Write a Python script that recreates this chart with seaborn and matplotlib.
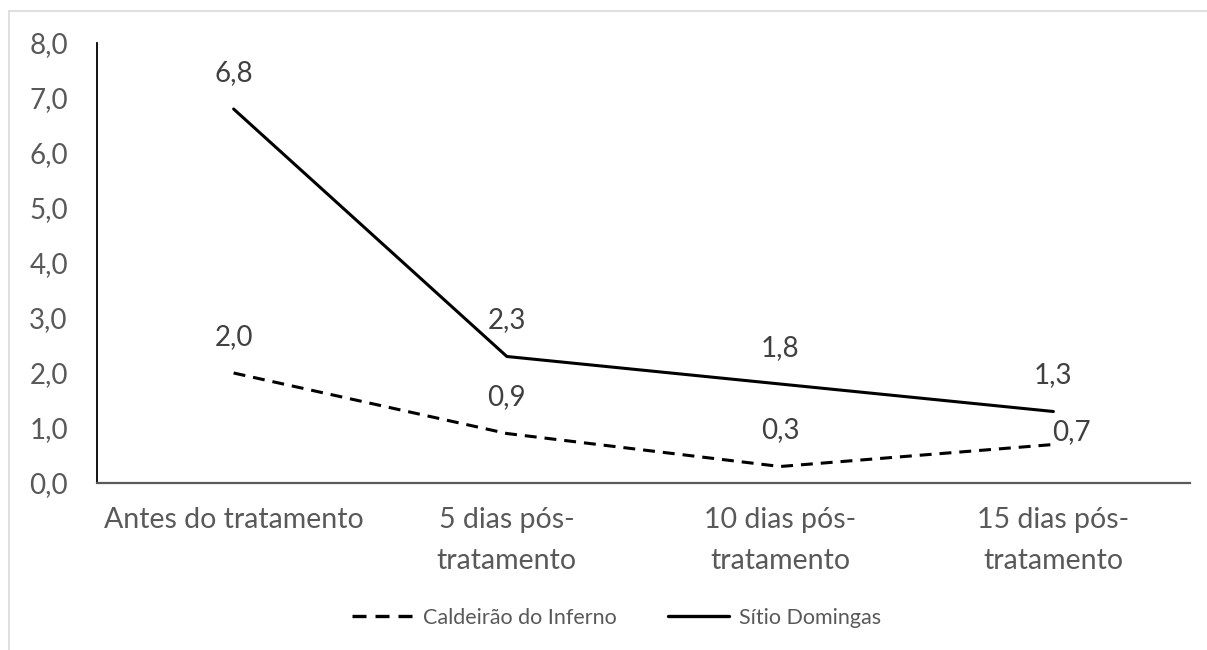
import matplotlib
matplotlib.use("Agg")
import matplotlib.pyplot as plt
import seaborn as sns
import pandas as pd
from matplotlib.patches import Rectangle

categories = ["Antes do tratamento", "5 dias pós-\ntratamento",
              "10 dias pós-\ntratamento", "15 dias pós-\ntratamento"]
caldeirao = [2.0, 0.9, 0.3, 0.7]
sitio = [6.8, 2.3, 1.8, 1.3]
series_names = ["Caldeirão do Inferno", "Sítio Domingas"]
y_ticks = [0, 1, 2, 3, 4, 5, 6, 7, 8]

df = pd.DataFrame({
    "pos": list(range(len(categories))) * 2,
    "valor": caldeirao + sitio,
    "serie": [series_names[0]] * 4 + [series_names[1]] * 4,
})

sns.set_theme(style="white")
plt.rcParams["font.family"] = ["Lato", "DejaVu Sans"]


def fmt(v):
    return f"{v:.1f}".replace(".", ",")


fig = plt.figure(figsize=(12.07, 6.5), dpi=100)
ax = fig.add_axes([97 / 1207, 1 - 483 / 650, (1190 - 97) / 1207, (483 - 43) / 650])

sns.lineplot(data=df, x="pos", y="valor", hue="serie", style="serie",
             palette={series_names[0]: "black", series_names[1]: "black"},
             dashes={series_names[0]: (3.9, 2.6), series_names[1]: ""},
             linewidth=2.2, ax=ax, legend=False)

ax.set_xlim(-0.5, len(categories) - 0.5)
ax.set_ylim(0, 8)
ax.set_xticks(range(len(categories)))
ax.set_xticklabels(categories, fontsize=20.5, color="#595959", linespacing=1.75)
ax.set_yticks(y_ticks)
ax.set_yticklabels([fmt(v) for v in y_ticks], fontsize=20, color="#595959")
ax.tick_params(axis="both", length=0)
ax.tick_params(axis="y", pad=21)
ax.tick_params(axis="x", pad=17)
ax.set_xlabel("")
ax.set_ylabel("")

for s in ["top", "right"]:
    ax.spines[s].set_visible(False)
ax.spines["left"].set_color("black")
ax.spines["left"].set_linewidth(1.3)
ax.spines["bottom"].set_color("#595959")
ax.spines["bottom"].set_linewidth(1.6)

# value labels above each point
for i, v in enumerate(sitio):
    ax.annotate(fmt(v), (i, v), xytext=(0, 26), textcoords="offset points",
                ha="center", va="center", fontsize=20, color="#404040")
for i, v in enumerate(caldeirao):
    off = (13, 9) if i == len(caldeirao) - 1 else (0, 26)
    ax.annotate(fmt(v), (i, v), xytext=off, textcoords="offset points",
                ha="center", va="center", fontsize=20, color="#404040")

# legend below the plot
handles = [plt.Line2D([], [], color="black", lw=2.4, dashes=(4.2, 2.7)),
           plt.Line2D([], [], color="black", lw=2.4)]
fig.legend(handles, series_names, loc="center", bbox_to_anchor=(0.511, 1 - 618 / 650),
           ncol=2, frameon=False, fontsize=15.5, labelcolor="#595959",
           handlelength=2.8, columnspacing=2.4, handletextpad=0.5)

# light frame around the chart area
fig.patches.append(Rectangle((9 / 1207, -0.1), 1.2, 1 - 11 / 650 + 0.1,
                             transform=fig.transFigure, fill=False,
                             edgecolor="#d9d9d9", linewidth=1.2))

fig.savefig("out.png", dpi=100)
